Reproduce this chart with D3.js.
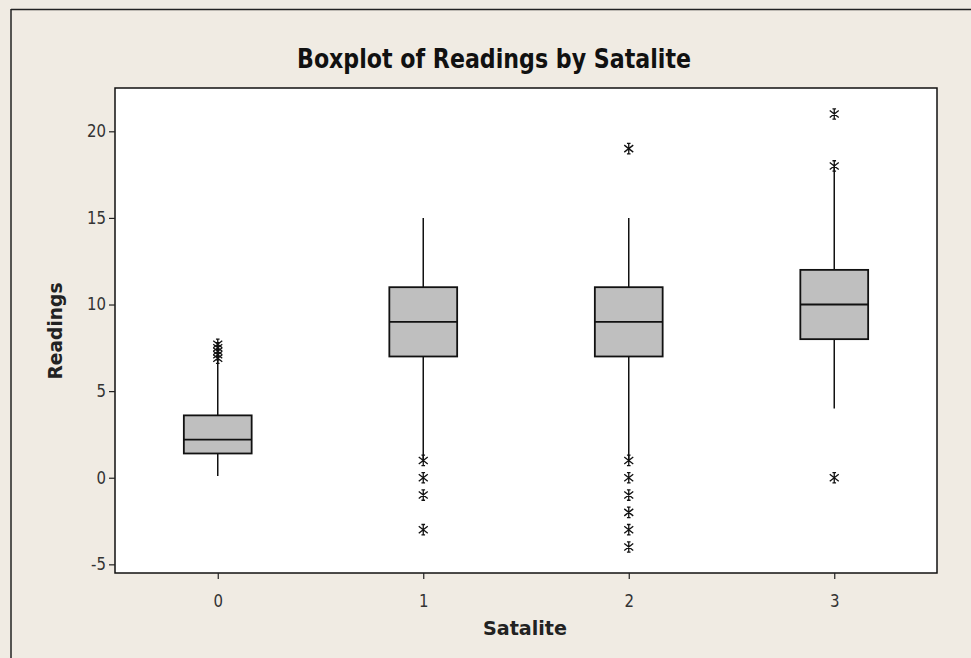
<!DOCTYPE html>
<html>
<head>
<meta charset="utf-8">
<script src="https://cdn.jsdelivr.net/npm/d3@7"></script>
<style>
  html, body { margin: 0; padding: 0; background: #f0ebe3; }
  svg { display: block; }
</style>
</head>
<body>
<svg id="chart" width="971" height="658"></svg>
<script>
// ---- data ----
const categories = [0, 1, 2, 3];
const q1 = [1.4, 7, 7, 8];
const median = [2.2, 9, 9, 10];
const q3 = [3.6, 11, 11, 12];
const whiskerLow = [0.1, 1, 1, 4];
const whiskerHigh = [6.9, 15, 15, 18];
const outliers = [
  [6.9, 7.1, 7.3, 7.5, 7.7],
  [1, 0, -1, -3],
  [19, 1, 0, -1, -2, -3, -4],
  [21, 18, 0]
];
const yTicks = [-5, 0, 5, 10, 15, 20];
const xTicks = [0, 1, 2, 3];
const titleText = "Boxplot of Readings by Satalite";
const xLabel = "Satalite";
const yLabel = "Readings";

// ---- layout ----
const W = 971, H = 658;
const plot = { left: 115, right: 937, top: 88, bottom: 573 };
const svg = d3.select("#chart");

svg.append("rect").attr("x", 0).attr("y", 0).attr("width", W).attr("height", H).attr("fill", "#f0ebe3");
svg.append("line").attr("x1", 11).attr("x2", 11).attr("y1", 9).attr("y2", H).attr("stroke", "#222").attr("stroke-width", 1.5);
svg.append("line").attr("x1", 11).attr("x2", W).attr("y1", 9.5).attr("y2", 9.5).attr("stroke", "#222").attr("stroke-width", 1.5);

const x = d3.scaleLinear().domain([-0.5, 3.5]).range([plot.left, plot.right]);
const y = d3.scaleLinear().domain([-5.5, 22.5]).range([plot.bottom, plot.top]);

svg.append("rect")
  .attr("x", plot.left).attr("y", plot.top)
  .attr("width", plot.right - plot.left).attr("height", plot.bottom - plot.top)
  .attr("fill", "#ffffff").attr("stroke", "#111").attr("stroke-width", 1.5);

// axes
const tickFont = "'DejaVu Sans', Verdana, sans-serif";
const yAxis = svg.append("g").attr("transform", `translate(${plot.left},0)`)
  .call(d3.axisLeft(y).tickValues(yTicks).tickSize(6).tickPadding(3).tickFormat(d => String(d)));
const xAxis = svg.append("g").attr("transform", `translate(0,${plot.bottom})`)
  .call(d3.axisBottom(x).tickValues(xTicks).tickSize(6).tickPadding(16).tickFormat(d => String(d)));
[yAxis, xAxis].forEach(a => {
  a.select(".domain").remove();
  a.selectAll(".tick line").attr("stroke", "#222").attr("stroke-width", 1.2);
  a.selectAll(".tick text").attr("font-family", tickFont).attr("font-size", 17).attr("fill", "#333")
    .attr("transform", "scale(0.88,1)");
});
yAxis.selectAll(".tick text").attr("x", -9 / 0.88);
xAxis.selectAll(".tick text").attr("x", 0);

// boxes
const halfW = 0.165;
const groups = svg.append("g").selectAll("g").data(categories).join("g");
groups.append("line")
  .attr("x1", (d) => x(d)).attr("x2", (d) => x(d))
  .attr("y1", (d, i) => y(whiskerLow[i])).attr("y2", (d, i) => y(q1[i]))
  .attr("stroke", "#111").attr("stroke-width", 1.5);
groups.append("line")
  .attr("x1", (d) => x(d)).attr("x2", (d) => x(d))
  .attr("y1", (d, i) => y(q3[i])).attr("y2", (d, i) => y(whiskerHigh[i]))
  .attr("stroke", "#111").attr("stroke-width", 1.5);
groups.append("rect")
  .attr("x", (d) => x(d - halfW)).attr("width", (d) => x(d + halfW) - x(d - halfW))
  .attr("y", (d, i) => y(q3[i])).attr("height", (d, i) => y(q1[i]) - y(q3[i]))
  .attr("fill", "#bfbfbf").attr("stroke", "#111").attr("stroke-width", 1.8);
groups.append("line")
  .attr("x1", (d) => x(d - halfW)).attr("x2", (d) => x(d + halfW))
  .attr("y1", (d, i) => y(median[i])).attr("y2", (d, i) => y(median[i]))
  .attr("stroke", "#111").attr("stroke-width", 1.8);

// outlier asterisks
const starPath = "M0,-5.5V5.5M-4.5,-3.5L4.5,3.5M-4.5,3.5L4.5,-3.5M-1.8,-5.2H1.8M-1.8,5.2H1.8";
const outPts = categories.flatMap((c, i) => outliers[i].map(v => ({ c, v })));
svg.append("g").selectAll("path").data(outPts).join("path")
  .attr("transform", d => `translate(${x(d.c)},${y(d.v)})`)
  .attr("d", starPath)
  .attr("fill", "none").attr("stroke", "#111").attr("stroke-width", 1.3);

// texts
const labelFont = "'DejaVu Sans', Tahoma, sans-serif";
svg.append("text").attr("x", 494).attr("y", 68).attr("text-anchor", "middle")
  .attr("font-family", labelFont).attr("font-weight", "bold").attr("font-size", 26)
  .attr("fill", "#111").attr("textLength", 394).attr("lengthAdjust", "spacingAndGlyphs")
  .text(titleText);
svg.append("text").attr("x", 525).attr("y", 635).attr("text-anchor", "middle")
  .attr("font-family", labelFont).attr("font-weight", "bold").attr("font-size", 20)
  .attr("fill", "#222").attr("textLength", 84).attr("lengthAdjust", "spacingAndGlyphs")
  .text(xLabel);
svg.append("text").attr("transform", "translate(62,331) rotate(-90)").attr("text-anchor", "middle")
  .attr("font-family", labelFont).attr("font-weight", "bold").attr("font-size", 19)
  .attr("fill", "#222").attr("textLength", 97).attr("lengthAdjust", "spacingAndGlyphs")
  .text(yLabel);
</script>
</body>
</html>
